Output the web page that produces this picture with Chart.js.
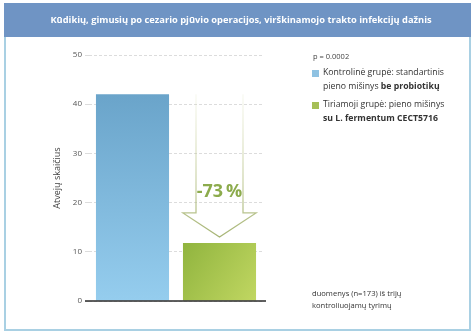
<!DOCTYPE html>
<html>
<head>
<meta charset="utf-8">
<script src="https://cdn.jsdelivr.net/npm/chart.js@4.4.0/dist/chart.umd.min.js"></script>
<style>
html, body { margin: 0; padding: 0; background: #fff; }
#myChartBody { width: 474px; height: 335px; }
</style>
</head>
<body>
<div id="myChartBody"><canvas id="myChart" width="474" height="335"></canvas></div>
<script>
var TITLE = 'Kūdikių, gimusių po cezario pjūvio operacijos, virškinamojo trakto infekcijų dažnis';
var groups = ['Kontrolinė grupė', 'Tiriamoji grupė'];
var cases = [42, 11.8];
var yTicks = [0, 10, 20, 30, 40, 50];
var yTitle = 'Atvejų skaičius';
var reduction = '-73\u2009%';
var pValue = 'p = 0.0002';
// each legend entry: lines made of [text, bold] parts
var legendLines = [
    [[['Kontrolinė grupė: standartinis', false]], [['pieno mišinys ', false], ['be probiotikų', true]]],
    [[['Tiriamoji grupė: pieno mišinys', false]], [['su L. fermentum CECT5716', true]]]
];
var legendColors = ['#8fc2e2', '#a6bf57'];
var note = ['duomenys (n=173) iš trijų', 'kontroliuojamų tyrimų'];

var FONT = "'Open Sans', sans-serif";
Chart.defaults.font.family = FONT;

function barFill(context) {
    var chart = context.chart;
    var area = chart.chartArea;
    if (!area) return legendColors[context.dataIndex];
    var c = chart.ctx;
    var g;
    if (context.dataIndex === 0) {
        g = c.createLinearGradient(0, chart.scales.y.getPixelForValue(cases[0]), 0, area.bottom);
        g.addColorStop(0, '#6aa4ca');
        g.addColorStop(1, '#95cdee');
    } else {
        var mid = area.left + area.width / 2;
        g = c.createLinearGradient(mid, chart.scales.y.getPixelForValue(cases[1]), area.right, area.bottom);
        g.addColorStop(0, '#8db23c');
        g.addColorStop(1, '#c4d964');
    }
    return g;
}

function drawRich(c, parts, x, y, size) {
    parts.forEach(function (p) {
        c.font = (p[1] ? 'bold ' : '') + size + 'px ' + FONT;
        c.fillText(p[0], x, y);
        x += c.measureText(p[0]).width;
    });
}

var framePlugin = {
    id: 'frame',
    beforeDraw: function (chart) {
        var c = chart.ctx;
        c.save();
        c.fillStyle = '#fff';
        c.fillRect(0, 0, chart.width, chart.height);
        // outer border
        c.strokeStyle = '#a9d0e3';
        c.lineWidth = 2;
        c.strokeRect(5, 4, 465, 326);
        // header band
        c.fillStyle = '#6f94c4';
        c.fillRect(4, 3, 467, 34);
        c.fillStyle = '#fff';
        c.font = 'bold 9.3px ' + FONT;
        c.textAlign = 'center';
        c.textBaseline = 'middle';
        c.fillText(TITLE, 241, 20);
        c.restore();
    },
    afterDraw: function (chart) {
        var c = chart.ctx;
        var y = chart.scales.y;
        var meta = chart.getDatasetMeta(0);
        var b1 = meta.data[0], b2 = meta.data[1];
        c.save();

        // base line at zero
        c.strokeStyle = '#2b2b2b';
        c.lineWidth = 1.5;
        c.beginPath();
        c.moveTo(85, y.getPixelForValue(0));
        c.lineTo(266, y.getPixelForValue(0));
        c.stroke();

        // reduction arrow over the second bar
        var cx = b2.x;
        var top = b1.y;
        var tip = b2.y - 6;
        var headTop = tip - 24;
        var shaft = 23.5;
        var head = b2.width / 2;
        var g = c.createLinearGradient(0, top, 0, tip);
        g.addColorStop(0, 'rgba(200,208,150,0.12)');
        g.addColorStop(1, '#a6b474');
        c.strokeStyle = g;
        c.lineWidth = 1.3;
        c.beginPath();
        c.moveTo(cx - shaft, top);
        c.lineTo(cx - shaft, headTop);
        c.lineTo(cx - head, headTop);
        c.lineTo(cx, tip);
        c.lineTo(cx + head, headTop);
        c.lineTo(cx + shaft, headTop);
        c.lineTo(cx + shaft, top);
        c.stroke();

        c.fillStyle = '#8cab4c';
        c.font = 'bold 18px ' + FONT;
        c.textAlign = 'center';
        c.textBaseline = 'middle';
        c.fillText(reduction, cx, headTop - 21);

        // legend
        c.textAlign = 'left';
        c.fillStyle = '#444';
        c.font = '7.5px ' + FONT;
        c.fillText(pValue, 313, 57);
        var ly = [73, 105];
        legendLines.forEach(function (entry, i) {
            c.fillStyle = legendColors[i];
            c.fillRect(312, ly[i] - 3, 7, 7);
            c.fillStyle = '#333';
            entry.forEach(function (line, j) {
                drawRich(c, line, 323, ly[i] + j * 13.5, 8.7);
            });
        });

        // source note
        c.fillStyle = '#333';
        c.font = '7.6px ' + FONT;
        note.forEach(function (t, i) {
            c.fillText(t, 312, 294 + i * 12);
        });
        c.restore();
    }
};

const ctx = document.getElementById('myChart').getContext('2d');
var myChart = new Chart(ctx, {
    type: 'bar',
    data: {
        labels: groups,
        datasets: [{
            data: cases,
            backgroundColor: barFill,
            borderWidth: 0,
            barPercentage: 0.84,
            categoryPercentage: 1
        }]
    },
    options: {
        responsive: false,
        animation: false,
        layout: { padding: { left: 49, right: 211, top: 55, bottom: 34 } },
        scales: {
            x: { display: false },
            y: {
                min: 0,
                max: 50,
                afterBuildTicks: function (scale) {
                    scale.ticks = yTicks.map(function (v) { return { value: v }; });
                },
                afterFit: function (scale) { scale.width = 40; },
                ticks: { color: '#555', font: { size: 8 }, padding: 3 },
                grid: { color: '#dcdcdc', tickLength: 4, tickColor: '#dcdcdc' },
                border: { display: false, dash: [3, 2] },
                title: {
                    display: true,
                    text: yTitle,
                    color: '#444',
                    font: { size: 9 },
                    padding: { top: 3, bottom: 2 }
                }
            }
        },
        plugins: {
            legend: { display: false },
            tooltip: { enabled: false }
        }
    },
    plugins: [framePlugin]
});
</script>
</body>
</html>
